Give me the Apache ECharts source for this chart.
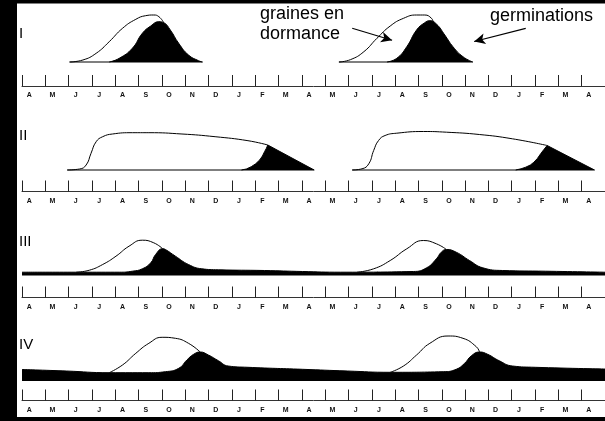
<!DOCTYPE html>
<html><head><meta charset="utf-8">
<script src="https://cdn.jsdelivr.net/npm/echarts@6/dist/echarts.min.js"></script>
<style>html,body{margin:0;padding:0;background:#fff}#c{width:605px;height:421px}</style>
</head><body><div id="c"></div><script>
// Month tick labels (25 months, April -> April)
const monthLabels = ['A','M','J','J','A','S','O','N','D','J','F','M','A','M','J','J','A','S','O','N','D','J','F','M','A'];
const panelNames = ['I','II','III','IV'];

// x = months since start of first April, y = relative abundance (arbitrary units)
// Panel I
const totalI_a = [[2.04,0],[2.61,2],[3.18,8.7],[3.74,20.3],[4.31,33.7],[4.88,42.7],[5.30,46.3],[5.65,47],[5.87,45.3],[6.08,39.3]];
const germI_a  = [[3.74,0],[4.17,3.7],[4.73,13.7],[5.16,28.7],[5.52,36],[5.87,40.3],[6.08,39.3],[6.36,32],[6.72,18.7],[7.14,7],[7.57,1.3],[7.74,0]];
const totalI_b = [[13.59,0],[14.09,2.4],[14.66,10.3],[15.22,23.7],[15.79,36],[16.36,43.7],[16.92,47],[17.27,47],[17.56,43.7],[17.63,39.8]];
const germI_b  = [[15.65,0],[16.07,3.7],[16.50,15.3],[16.92,32],[17.27,39.3],[17.49,41.3],[17.77,38],[18.13,27],[18.48,15.3],[18.91,5.3],[19.33,0]];
const baseI_a = [[2.04,0],[7.74,0]];
const baseI_b = [[13.59,0],[19.33,0]];
// Panel II
const totalII_a = [[1.94,0],[2.47,1],[2.75,5],[2.96,16.7],[3.18,28.3],[3.46,33.3],[3.88,36],[4.73,37.3],[5.44,37.3],[6.86,36],[8.28,33.3],[9.69,29.3],[10.54,25]];
const germII_a  = [[9.41,0],[9.62,1],[9.83,3.3],[10.02,6.2],[10.19,10],[10.31,14],[10.40,18.3],[10.48,21.7],[10.54,25],[12.53,0]];
const totalII_b = [[14.16,0],[14.58,1.2],[14.87,6.2],[15.08,19.5],[15.29,29.5],[15.57,34.5],[16.07,36.8],[17.21,38.5],[18.20,37.8],[19.61,35.5],[21.03,31.2],[22.52,24.5]];
const germII_b  = [[21.17,0],[21.4,1.2],[21.6,2.8],[21.8,5],[21.95,7.8],[22.1,11.5],[22.24,16.2],[22.38,20.5],[22.52,24.5],[24.55,0]];
const baseII_a = [[1.94,0],[12.53,0]];
const baseII_b = [[14.16,0],[24.55,0]];
// Panel III
const totalIII_a = [[2.33,3.3],[2.89,5.3],[3.46,11],[4.03,19.3],[4.59,29.3],[5.16,35.3],[5.65,32.7],[6.03,26.8]];
const totalIII_b = [[14.37,3.3],[15.08,6.7],[15.79,15],[16.50,26.7],[17.21,35],[17.77,31.7],[18.20,26]];
const germIII = [[0,3.3],[4.17,3.3],[4.73,4.3],[5.16,6.7],[5.52,12.7],[5.73,21],[6.03,26.8],[6.15,26],[6.58,19.3],[7.14,11],[7.71,6.7],[8.42,5.7],[10.40,5],[12.03,4],[13.66,3.3],[16.78,4],[17.35,7.7],[17.77,16.7],[17.98,23.3],[18.20,26],[18.62,23.3],[19.19,15],[19.76,7.7],[20.61,5],[22.45,4.3],[25,3.3]];
// Panel IV
const totalIV_a = [[3.74,8.3],[4.31,16],[4.88,27.7],[5.44,37.7],[6.01,43.7],[6.58,42.7],[7.14,37.7],[7.64,29]];
const totalIV_b = [[15.79,8.7],[16.36,15],[16.92,26],[17.49,37.7],[18.27,45],[18.91,42.7],[19.48,34.3],[19.62,29]];
const germIV = [[0,11.5],[1.9,10],[3.74,8.3],[5.44,8.3],[6.15,9.3],[6.72,12.7],[7.07,21],[7.36,26.7],[7.64,29],[7.99,26],[8.42,20.3],[8.84,15],[9.69,13.7],[12.03,11.7],[13.95,10],[15.79,8.7],[18.06,9.3],[18.62,11.7],[18.98,17.7],[19.26,25],[19.62,29],[19.97,26.7],[20.46,20.3],[21.03,15],[22.02,13.7],[25,12]];

// Annotation arrows (data coords of panel I)
const arrowDormance = [[14.16,33.7],[15.87,21.7]];
const arrowGerm = [[21.60,33.7],[19.39,20.5]];

const FONT = '"Liberation Sans", Arial, sans-serif';
const grids = [
  {left:22, width:588, top:2, height:84},
  {left:22, width:588, top:110, height:81.5},
  {left:22, width:588, top:215.5, height:82},
  {left:22, width:588, top:321, height:79.5}
];
const yMins = [-24, -21.5, -22, -19.5];

const xAxes = [], yAxes = [];
grids.forEach((g, i) => {
  xAxes.push({
    type:'category', gridIndex:i, data: monthLabels.map((m,k)=>String(k)), boundaryGap:true,
    axisLine:{show:true, onZero:false, lineStyle:{color:'#333', width:1}},
    axisTick:{show:true, inside:true, length:11, interval:0, lineStyle:{color:'#222', width:1}},
    axisLabel:{interval:0, formatter:(v,idx)=>monthLabels[idx], fontSize:7, fontWeight:'bold', color:'#111', margin:6, padding:[0,9,0,0], fontFamily:FONT},
    splitLine:{show:false}
  });
  xAxes.push({type:'value', gridIndex:i, min:0, max:25, show:false});
  yAxes.push({type:'value', gridIndex:i, min:yMins[i], max:60, show:false});
});

function whiteArea(data, gi, smooth){
  return {type:'line', xAxisIndex:gi*2+1, yAxisIndex:gi, data, smooth: smooth, symbol:'none',
    lineStyle:{color:'#000', width:1}, areaStyle:{color:'#fff', opacity:1, origin:0}, silent:true, z:2};
}
function blackArea(data, gi, smooth){
  return {type:'line', xAxisIndex:gi*2+1, yAxisIndex:gi, data, smooth: smooth, symbol:'none',
    lineStyle:{color:'#000', width:1}, areaStyle:{color:'#000', opacity:1, origin:0}, silent:true, z:3};
}
function baseLine(data, gi){
  return {type:'line', xAxisIndex:gi*2+1, yAxisIndex:gi, data, symbol:'none',
    lineStyle:{color:'#000', width:1.2}, silent:true, z:4};
}

const series = [
  whiteArea(totalI_a,0,0.5), whiteArea(totalI_b,0,0.5),
  blackArea(germI_a,0,0.5),
  Object.assign(blackArea(germI_b,0,0.5), {markLine:{
    silent:true, symbol:['none','arrow'], symbolSize:[8,11], label:{show:false},
    lineStyle:{color:'#000', width:1.2, type:'solid'}, emphasis:{disabled:true},
    data:[[{coord:arrowDormance[0]},{coord:arrowDormance[1]}],[{coord:arrowGerm[0]},{coord:arrowGerm[1]}]]
  }}),
  baseLine(baseI_a,0), baseLine(baseI_b,0),
  whiteArea(totalII_a,1,0.5), whiteArea(totalII_b,1,0.5),
  blackArea(germII_a,1,false), blackArea(germII_b,1,false),
  baseLine(baseII_a,1), baseLine(baseII_b,1),
  whiteArea(totalIII_a,2,0.5), whiteArea(totalIII_b,2,0.5),
  blackArea(germIII,2,0.5),
  whiteArea(totalIV_a,3,0.5), whiteArea(totalIV_b,3,0.5),
  blackArea(germIV,3,0.5)
];

const numeralY = [33.8, 135.5, 242, 345];
const graphic = [];
panelNames.forEach((n,i)=>{
  graphic.push({type:'text', x:19, y:numeralY[i], z:50, style:{text:n, font:'15px '+FONT, fill:'#000', verticalAlign:'middle', align:'left'}});
});
graphic.push({type:'text', x:260, y:3.35, z:50, style:{text:'graines en\ndormance', font:'18px '+FONT, fill:'#000', lineHeight:20.5, verticalAlign:'top', align:'left'}});
graphic.push({type:'text', x:490, y:16.3, z:50, style:{text:'germinations', font:'18px '+FONT, fill:'#000', verticalAlign:'middle', align:'left'}});
// black scan frame
graphic.push({type:'rect', z:100, shape:{x:0,y:0,width:17,height:421}, style:{fill:'#000'}});
graphic.push({type:'rect', z:100, shape:{x:0,y:0,width:605,height:3.5}, style:{fill:'#000'}});
graphic.push({type:'rect', z:100, shape:{x:0,y:417,width:605,height:4}, style:{fill:'#000'}});

const chart = echarts.init(document.getElementById('c'), null, {renderer:'canvas'});
chart.setOption({
  backgroundColor:'#fff', animation:false,
  grid: grids, xAxis: xAxes, yAxis: yAxes, series, graphic
});
</script></body></html>
